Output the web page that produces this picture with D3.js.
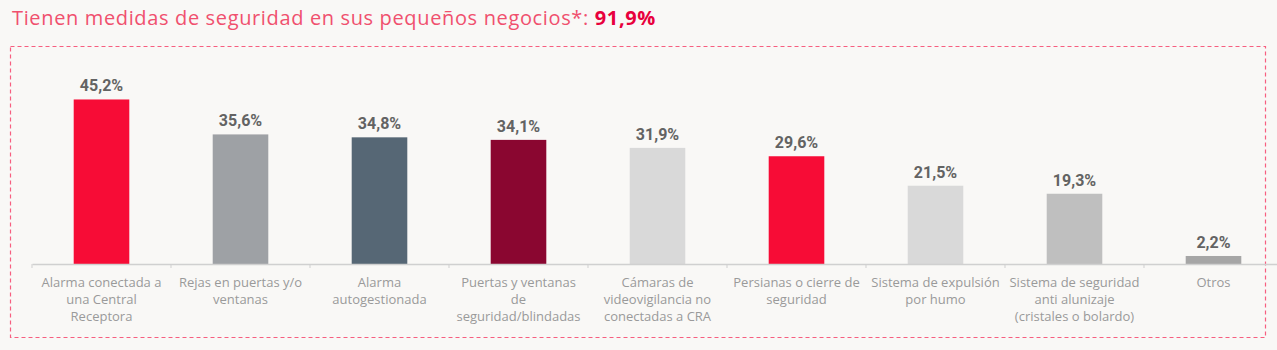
<!DOCTYPE html>
<html><head><meta charset="utf-8">
<script src="https://cdn.jsdelivr.net/npm/d3@7"></script>
<style>
html,body{margin:0;padding:0;background:#f9f8f6;}
svg{display:block;}
</style></head>
<body>
<svg id="chart" width="1277" height="350"></svg>
<script>
const categories = [
  "Alarma conectada a\nuna Central\nReceptora",
  "Rejas en puertas y/o\nventanas",
  "Alarma\nautogestionada",
  "Puertas y ventanas\nde\nseguridad/blindadas",
  "Cámaras de\nvideovigilancia no\nconectadas a CRA",
  "Persianas o cierre de\nseguridad",
  "Sistema de expulsión\npor humo",
  "Sistema de seguridad\nanti alunizaje\n(cristales o bolardo)",
  "Otros"
];
const values = [45.2, 35.6, 34.8, 34.1, 31.9, 29.6, 21.5, 19.3, 2.2];
const valueLabels = ["45,2%","35,6%","34,8%","34,1%","31,9%","29,6%","21,5%","19,3%","2,2%"];
const colors = ["#f70c36","#9ea1a5","#566775","#8a0630","#d9d9d9","#f70c36","#d9d9d9","#bfbfbf","#a6a6a6"];
const titleText = "Tienen medidas de seguridad en sus pequeños negocios*: ";
const titleValue = "91,9%";

const svg = d3.select("#chart");
const font = "Roboto, 'Noto Sans', sans-serif";
const font2 = "'Open Sans', 'Noto Sans', sans-serif";

// title
const title = svg.append("text").attr("x", 12).attr("y", 25)
  .style("font-family", font2).style("font-size", "19px");
title.append("tspan").attr("fill", "#f0506e").text(titleText);
title.append("tspan").attr("fill", "#e8003d").attr("font-weight", "bold").text(titleValue);
const tw = title.node().getComputedTextLength();
const fs = 19 * 644 / tw;
title.style("font-size", Math.min(fs, 20) + "px");
const tw2 = title.node().getComputedTextLength();
if (tw2 < 640) title.style("letter-spacing", ((644 - tw2) / (titleText.length + titleValue.length)) + "px");

// dashed border
svg.append("rect").attr("x", 10.5).attr("y", 46.5).attr("width", 1255).attr("height", 291)
  .attr("fill", "none").attr("stroke", "#f75f80").attr("stroke-width", 1.2)
  .attr("stroke-dasharray", "4,3");

const x = d3.scaleBand().domain(d3.range(categories.length)).range([32, 1283]).paddingInner(0.6).paddingOuter(0.3);
const y = d3.scaleLinear().domain([0, 50]).range([264, 82]);

// bars
svg.append("g").selectAll("rect").data(values).join("rect")
  .attr("x", (d, i) => x(i)).attr("width", x.bandwidth())
  .attr("y", d => y(d)).attr("height", d => y(0) - y(d))
  .attr("fill", (d, i) => colors[i]);

// axis
const xAxis = d3.axisBottom(x).tickSize(0).tickFormat("");
const ag = svg.append("g").attr("transform", `translate(0,${y(0)})`).call(xAxis);
ag.select(".domain").attr("stroke", "#d0d0d0").attr("stroke-width", 1.5);
// boundary ticks
const step = x.step();
const bounds = d3.range(categories.length + 1).map(i => x.range()[0] + i * step);
svg.append("g").selectAll("line").data(bounds).join("line")
  .attr("x1", d => d).attr("x2", d => d).attr("y1", y(0)).attr("y2", y(0) + 4)
  .attr("stroke", "#cfcfcf").attr("stroke-width", 1);

// value labels
svg.append("g").selectAll("text").data(values).join("text")
  .attr("x", (d, i) => x(i) + x.bandwidth() / 2).attr("y", d => y(d) - 8)
  .attr("text-anchor", "middle").attr("fill", "#636363")
  .style("font-family", font).style("font-size", "16px").style("font-weight", "bold")
  .text((d, i) => valueLabels[i]);

// category labels
const cl = svg.append("g").selectAll("text").data(categories).join("text")
  .attr("x", (d, i) => x(i) + x.bandwidth() / 2).attr("y", 287)
  .attr("text-anchor", "middle").attr("fill", "#9a9a9a")
  .style("font-family", font2).style("font-size", "13px");
cl.selectAll("tspan").data(d => d.split("\n")).join("tspan")
  .attr("x", function() { return this.parentNode.getAttribute("x"); })
  .attr("dy", (d, i) => i === 0 ? 0 : 17).text(d => d);
</script>
</body></html>
